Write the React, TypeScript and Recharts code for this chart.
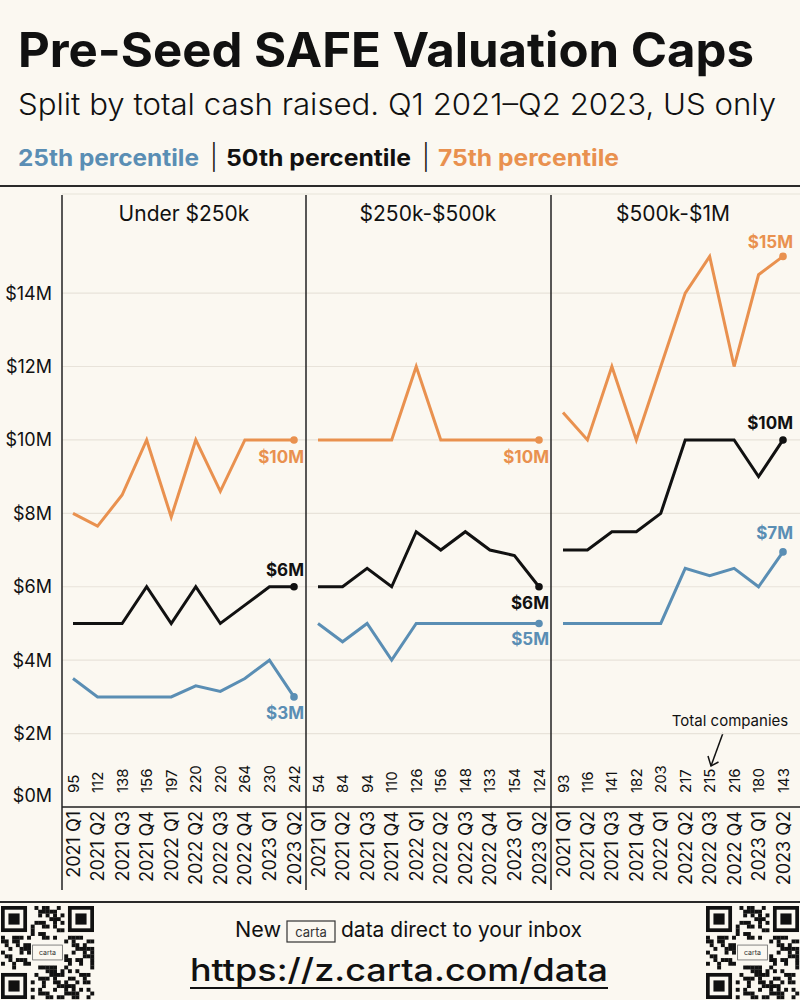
import React from 'react';
import { LineChart, Line, XAxis, YAxis, CartesianGrid, LabelList } from 'recharts';

const quarters = ['2021 Q1', '2021 Q2', '2021 Q3', '2021 Q4', '2022 Q1', '2022 Q2', '2022 Q3', '2022 Q4', '2023 Q1', '2023 Q2'];
const panelTitles = ['Under $250k', '$250k-$500k', '$500k-$1M'];
const yTicks = [0, 2, 4, 6, 8, 10, 12, 14];

const under250kP25 = [3.5, 3.0, 3.0, 3.0, 3.0, 3.3, 3.15, 3.5, 4.0, 3.0];
const under250kP50 = [5, 5, 5, 6, 5, 6, 5, 5.5, 6, 6];
const under250kP75 = [8, 7.65, 8.5, 10, 7.9, 10, 8.6, 10, 10, 10];
const under250kCounts = [95, 112, 138, 156, 197, 220, 220, 264, 230, 242];

const mid250kP25 = [5, 4.5, 5, 4, 5, 5, 5, 5, 5, 5];
const mid250kP50 = [6, 6, 6.5, 6, 7.5, 7, 7.5, 7, 6.85, 6];
const mid250kP75 = [10, 10, 10, 10, 12, 10, 10, 10, 10, 10];
const mid250kCounts = [54, 84, 94, 110, 126, 156, 148, 133, 154, 124];

const high500kP25 = [5, 5, 5, 5, 5, 6.5, 6.3, 6.5, 6, 6.95];
const high500kP50 = [7, 7, 7.5, 7.5, 8, 10, 10, 10, 9, 10];
const high500kP75 = [10.75, 10, 12, 10, 12, 14, 15, 12, 14.5, 15];
const high500kCounts = [93, 116, 141, 182, 203, 217, 215, 216, 180, 143];

const BG = '#FBF8F1';
const ORANGE = '#E9914F';
const BLUE = '#5A8EB4';
const BLACK = '#111111';
const GRID = '#E8E3DA';
const FONT = 'Inter, "Noto Sans", sans-serif';

const buildRows = (p25: number[], p50: number[], p75: number[], counts: number[]) =>
  quarters.map((q, i) => ({ q, p25: p25[i], p50: p50[i], p75: p75[i], n: counts[i] }));

const LAST = quarters.length - 1;

const endDot = (color: string) => (props: any) => {
  const { cx, cy, index } = props;
  if (index !== LAST) return <g key={`d${index}`} />;
  return <circle key={`d${index}`} cx={cx} cy={cy} r={3.8} fill={color} />;
};

const endLabel = (color: string, dy: number) => (props: any) => {
  const { x, y, value, index } = props;
  if (index !== LAST) return null;
  return (
    <text x={x + 10} y={y + dy} textAnchor="end" dominantBaseline="central" fill={color}
      fontSize={17} fontWeight={700} fontFamily={FONT}>
      {`$${Math.round(value)}M`}
    </text>
  );
};

const makeTick = (counts: number[]) => (props: any) => {
  const { x, y, payload } = props;
  const idx = payload.index;
  return (
    <g>
      <text transform={`translate(${x},${y + 4}) rotate(-90)`} textAnchor="end" dominantBaseline="central"
        fontSize={18} fill={BLACK} fontFamily={FONT}>{payload.value}</text>
      <text transform={`translate(${x},${y - 14}) rotate(-90)`} textAnchor="start" dominantBaseline="central"
        fontSize={15} fill={BLACK} fontFamily={FONT}>{counts[idx]}</text>
    </g>
  );
};

const YTick = (props: any) => {
  const { x, y, payload } = props;
  const off = payload.value === 0 ? -12 : 0;
  return (
    <text x={x} y={y + off} textAnchor="end" dominantBaseline="central" fontSize={18} fill={BLACK} fontFamily={FONT}>
      {`$${payload.value}M`}
    </text>
  );
};

type PanelProps = {
  left: number; width: number; showY: boolean; rows: any[]; counts: number[];
  dys: { p25: number; p50: number; p75: number }; padL: number; padR: number;
};

const Panel = ({ left, width, showY, rows, counts, dys, padL, padR }: PanelProps) => (
  <div style={{ position: 'absolute', left, top: 190 }}>
    <LineChart width={width} height={700} data={rows} margin={{ top: 4, right: 0, bottom: 0, left: 0 }}>
      <CartesianGrid vertical={false} stroke={GRID} strokeWidth={1.2} />
      <XAxis dataKey="q" height={83} interval={0} tickLine={false} tickSize={0} tickMargin={0}
        axisLine={{ stroke: '#222', strokeWidth: 1.5 }} padding={{ left: padL, right: padR }} tick={makeTick(counts)} />
      {showY ? (
        <YAxis domain={[0, 16.7]} ticks={yTicks} width={62} axisLine={false} tickLine={false}
          tickSize={0} tickMargin={10} tick={YTick} interval={0} />
      ) : (
        <YAxis hide domain={[0, 16.7]} ticks={yTicks} interval={0} />
      )}
      <Line type="linear" dataKey="p75" stroke={ORANGE} strokeWidth={3} dot={endDot(ORANGE)} activeDot={false}
        isAnimationActive={false}>
        <LabelList dataKey="p75" content={endLabel(ORANGE, dys.p75)} />
      </Line>
      <Line type="linear" dataKey="p50" stroke={BLACK} strokeWidth={3} dot={endDot(BLACK)} activeDot={false}
        isAnimationActive={false}>
        <LabelList dataKey="p50" content={endLabel(BLACK, dys.p50)} />
      </Line>
      <Line type="linear" dataKey="p25" stroke={BLUE} strokeWidth={3} dot={endDot(BLUE)} activeDot={false}
        isAnimationActive={false}>
        <LabelList dataKey="p25" content={endLabel(BLUE, dys.p25)} />
      </Line>
    </LineChart>
  </div>
);

const QR = ({ x, y, size }: { x: number; y: number; size: number }) => {
  const n = 25;
  const m = size / n;
  const cells: React.ReactNode[] = [];
  const inFinder = (i: number, j: number) =>
    (i < 8 && j < 8) || (i < 8 && j >= n - 8) || (i >= n - 8 && j < 8);
  for (let i = 0; i < n; i++) {
    for (let j = 0; j < n; j++) {
      if (inFinder(i, j)) continue;
      if (i >= 9 && i <= 15 && j >= 8 && j <= 16) continue;
      if ((i * 7 + j * 11 + ((i * j) % 5)) % 3 === 0 || (i + 2 * j) % 7 === 1) {
        cells.push(<rect key={`${i}-${j}`} x={x + j * m} y={y + i * m} width={m + 0.2} height={m + 0.2} fill="#111" />);
      }
    }
  }
  const finder = (fx: number, fy: number, k: string) => (
    <g key={k}>
      <rect x={fx} y={fy} width={7 * m} height={7 * m} fill="#111" />
      <rect x={fx + m} y={fy + m} width={5 * m} height={5 * m} fill={BG} />
      <rect x={fx + 2 * m} y={fy + 2 * m} width={3 * m} height={3 * m} fill="#111" />
    </g>
  );
  return (
    <g>
      {cells}
      {finder(x, y, 'a')}
      {finder(x + (n - 7) * m, y, 'b')}
      {finder(x, y + (n - 7) * m, 'c')}
      <rect x={x + 8.5 * m} y={y + 10.5 * m} width={8 * m} height={4 * m} fill={BG} stroke="#666" strokeWidth={0.8} />
      <text x={x + 12.5 * m} y={y + 12.5 * m} textAnchor="middle" dominantBaseline="central" fontSize={7}
        fill="#333" fontFamily={FONT}>carta</text>
    </g>
  );
};

export default function App() {
  const rows1 = buildRows(under250kP25, under250kP50, under250kP75, under250kCounts);
  const rows2 = buildRows(mid250kP25, mid250kP50, mid250kP75, mid250kCounts);
  const rows3 = buildRows(high500kP25, high500kP50, high500kP75, high500kCounts);
  return (
    <div style={{ position: 'absolute', left: 0, top: 0, width: 800, height: 1000, background: BG, overflow: 'hidden', fontFamily: FONT }}>
      <svg width={800} height={1000} style={{ position: 'absolute', left: 0, top: 0 }}>
        <text x={18} y={67} fontSize={48} fontWeight={700} fill={BLACK} textLength={736} lengthAdjust="spacingAndGlyphs">
          Pre-Seed SAFE Valuation Caps
        </text>
        <text x={18} y={115} fontSize={30} fontWeight={300} fill={BLACK} textLength={758} lengthAdjust="spacingAndGlyphs">
          Split by total cash raised. Q1 2021–Q2 2023, US only
        </text>
        <text x={18} y={166} fontSize={23} fontWeight={700} fill={BLUE} textLength={181} lengthAdjust="spacingAndGlyphs">25th percentile</text>
        <text x={210} y={166} fontSize={25} fontWeight={300} fill={BLACK}>|</text>
        <text x={226} y={166} fontSize={23} fontWeight={700} fill={BLACK} textLength={185} lengthAdjust="spacingAndGlyphs">50th percentile</text>
        <text x={422} y={166} fontSize={25} fontWeight={300} fill={BLACK}>|</text>
        <text x={438} y={166} fontSize={23} fontWeight={700} fill={ORANGE} textLength={181} lengthAdjust="spacingAndGlyphs">75th percentile</text>
        <line x1={0} x2={800} y1={186} y2={186} stroke="#2a2a2a" strokeWidth={2} />

        <text x={184} y={213} textAnchor="middle" dominantBaseline="central" fontSize={21} fill={BLACK}>{panelTitles[0]}</text>
        <text x={428} y={213} textAnchor="middle" dominantBaseline="central" fontSize={21} fill={BLACK}>{panelTitles[1]}</text>
        <text x={673} y={213} textAnchor="middle" dominantBaseline="central" fontSize={21} fill={BLACK}>{panelTitles[2]}</text>

        <text x={730} y={720} textAnchor="middle" dominantBaseline="central" fontSize={15} fill={BLACK}>Total companies</text>
        <line x1={723} y1={733} x2={711} y2={766} stroke={BLACK} strokeWidth={1.5} />
        <polyline points="708,756 711,766 718.5,762" fill="none" stroke={BLACK} strokeWidth={1.5} />

        <line x1={0} x2={800} y1={902} y2={902} stroke="#2a2a2a" strokeWidth={2} />
        <text x={235} y={937} fontSize={21} fill={BLACK} textLength={46} lengthAdjust="spacingAndGlyphs">New</text>
        <rect x={287} y={921} width={48} height={21} fill="none" stroke="#333" strokeWidth={1.2} />
        <text x={311} y={932} textAnchor="middle" dominantBaseline="central" fontSize={13} fill="#333">carta</text>
        <text x={341} y={937} fontSize={21} fill={BLACK} textLength={241} lengthAdjust="spacingAndGlyphs">data direct to your inbox</text>
        <text x={190} y={981} fontSize={31} fontWeight={500} fill={BLACK} textLength={418} lengthAdjust="spacingAndGlyphs">https://z.carta.com/data</text>
        <line x1={190} x2={608} y1={988} y2={988} stroke={BLACK} strokeWidth={2} />
        <QR x={1} y={906} size={93} />
        <QR x={706} y={906} size={93} />
      </svg>

      <Panel left={0} width={306} showY rows={rows1} counts={under250kCounts}
        dys={{ p25: 16, p50: -17, p75: 17 }} padL={11} padR={12} />
      <Panel left={306} width={245} showY={false} rows={rows2} counts={mid250kCounts}
        dys={{ p25: 16, p50: 16, p75: 17 }} padL={12} padR={12} />
      <Panel left={551} width={249} showY={false} rows={rows3} counts={high500kCounts}
        dys={{ p25: -19, p50: -17, p75: -14 }} padL={12} padR={17} />

      <svg width={800} height={1000} style={{ position: 'absolute', left: 0, top: 0, pointerEvents: 'none' }}>
        <line x1={62} x2={62} y1={195} y2={890} stroke="#222" strokeWidth={1.5} />
        <line x1={306} x2={306} y1={195} y2={890} stroke="#222" strokeWidth={1.5} />
        <line x1={551} x2={551} y1={195} y2={890} stroke="#222" strokeWidth={1.5} />
      </svg>
    </div>
  );
}
